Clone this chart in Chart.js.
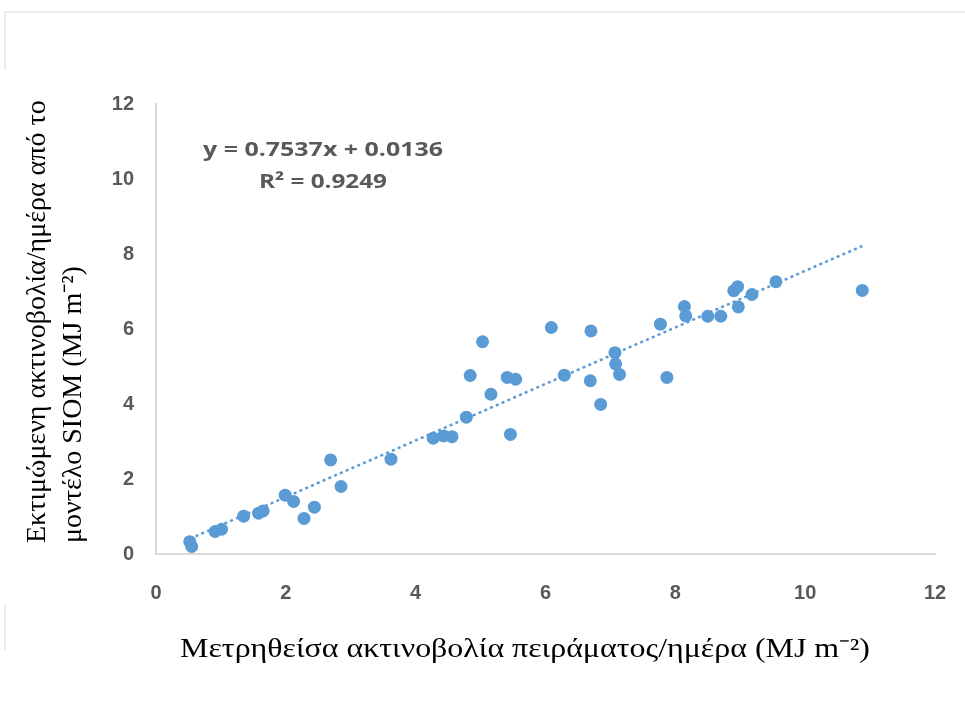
<!DOCTYPE html>
<html lang="el">
<head>
<meta charset="utf-8">
<title>Εκτιμώμενη και μετρηθείσα ακτινοβολία</title>
<script src="https://cdn.jsdelivr.net/npm/chart.js@4/dist/chart.umd.min.js"></script>
<style>
  html, body { margin: 0; padding: 0; background: #ffffff; }
  #wrap { width: 965px; height: 702px; position: relative; }
</style>
</head>
<body>
<div id="wrap"><canvas id="chart" width="965" height="702"></canvas></div>
<script>
// Measured daily radiation (MJ m-2) against the SIOM model estimate
const measured = [0.52, 0.55, 0.91, 1.01, 1.35, 1.58, 1.65, 1.99, 2.12, 2.28, 2.44, 2.69, 2.85, 3.62,
  4.27, 4.43, 4.56, 4.78, 4.84, 5.03, 5.16, 5.41, 5.54, 5.46, 6.09, 6.29, 6.70, 6.69, 6.85,
  7.07, 7.08, 7.14, 7.77, 7.87, 8.14, 8.16, 8.50, 8.70, 8.90, 8.96, 8.97, 9.18, 9.55, 10.88];
const estimated = [0.33, 0.20, 0.60, 0.66, 1.01, 1.09, 1.15, 1.57, 1.40, 0.95, 1.25, 2.51, 1.80, 2.53,
  3.09, 3.15, 3.13, 3.65, 4.76, 5.66, 4.26, 4.71, 4.66, 3.19, 6.04, 4.77, 5.95, 4.62, 3.99,
  5.37, 5.07, 4.79, 6.13, 4.71, 6.60, 6.35, 6.34, 6.34, 7.02, 7.13, 6.59, 6.92, 7.26, 7.03];

// Linear fit reported on the chart
const slope = 0.7537;
const intercept = 0.0136;
const rSquared = 0.9249;

const axisTicks = [0, 2, 4, 6, 8, 10, 12];

const xTitle = 'Μετρηθείσα ακτινοβολία πειράματος/ημέρα (MJ m⁻²)';
const yTitleLines = ['Εκτιμώμενη ακτινοβολία/ημέρα από το', 'μοντέλο SIOM (MJ m⁻²)'];

const points = measured.map((x, i) => ({ x: x, y: estimated[i] }));
const xMin = Math.min(...measured);
const xMax = Math.max(...measured);
const trend = [xMin, xMax].map(x => ({ x: x, y: slope * x + intercept }));

const fmt = (v) => v.toFixed(4);
const eqText = 'y = ' + fmt(slope) + 'x + ' + fmt(intercept);
const r2Text = 'R² = ' + fmt(rSquared);

const BLUE = '#5b9bd5';
const TICK_GREY = '#595959';
const AXIS_GREY = '#d9d9d9';

// Draws text squeezed or widened horizontally to a given width
function fillWide(ctx, text, x, y, width, align) {
  const natural = ctx.measureText(text).width;
  const k = width / natural;
  ctx.save();
  ctx.translate(x, y);
  ctx.scale(k, 1);
  ctx.textAlign = align;
  ctx.fillText(text, 0, 0);
  ctx.restore();
}

// Outer frame fragments, axis titles and the fit equation
const decorations = {
  id: 'decorations',
  beforeDraw(chart) {
    const ctx = chart.ctx;
    ctx.save();
    ctx.strokeStyle = '#e6e6e6';
    ctx.lineWidth = 1.5;
    ctx.beginPath();
    ctx.moveTo(5, 12); ctx.lineTo(965, 12);
    ctx.moveTo(5, 12); ctx.lineTo(5, 70);
    ctx.moveTo(5, 605); ctx.lineTo(5, 650);
    ctx.stroke();
    ctx.restore();
  },
  afterDraw(chart) {
    const ctx = chart.ctx;
    const area = chart.chartArea;
    ctx.save();
    // x-axis title
    ctx.fillStyle = '#000000';
    ctx.textBaseline = 'middle';
    ctx.font = '27px "Liberation Serif", "Times New Roman", serif';
    fillWide(ctx, xTitle, 180, 650, 690, 'left');

    // y-axis title, two lines rotated
    ctx.save();
    ctx.font = '28px "Liberation Serif", "Times New Roman", serif';
    ctx.translate(0, 543);
    ctx.rotate(-Math.PI / 2);
    ctx.textAlign = 'left';
    ctx.textBaseline = 'middle';
    ctx.fillText(yTitleLines[0], 0, 38);
    ctx.fillText(yTitleLines[1], 0, 74);
    ctx.restore();

    // fit equation
    ctx.fillStyle = TICK_GREY;
    ctx.font = 'bold 20px "Open Sans", "Liberation Sans", sans-serif';
    ctx.textBaseline = 'middle';
    const cx = area.left + 167;
    fillWide(ctx, eqText, cx, area.top + 46, 240, 'center');
    fillWide(ctx, r2Text, cx, area.top + 78, 128, 'center');
    ctx.restore();
  }
};

const tickFont = { family: '"Liberation Sans", Arial, sans-serif', size: 20, weight: 'bold' };

new Chart(document.getElementById('chart'), {
  type: 'scatter',
  data: {
    datasets: [
      {
        label: 'SIOM',
        data: points,
        backgroundColor: BLUE,
        borderColor: BLUE,
        borderWidth: 0,
        pointRadius: 6.5,
        pointHoverRadius: 6.5,
        order: 1
      },
      {
        label: 'Γραμμική',
        type: 'line',
        data: trend,
        borderColor: BLUE,
        borderWidth: 2.5,
        borderDash: [3, 3.3],
        borderCapStyle: 'butt',
        pointRadius: 0,
        fill: false,
        order: 2
      }
    ]
  },
  plugins: [decorations],
  options: {
    responsive: false,
    animation: false,
    devicePixelRatio: 1,
    layout: { padding: { top: 104, right: 30, left: 0, bottom: 0 } },
    plugins: {
      legend: { display: false },
      tooltip: { enabled: false },
      title: { display: false }
    },
    scales: {
      x: {
        type: 'linear',
        min: axisTicks[0],
        max: axisTicks[axisTicks.length - 1],
        afterBuildTicks(scale) { scale.ticks = axisTicks.map(v => ({ value: v })); },
        afterFit(scale) {
          scale.height = 148;
          scale.paddingLeft = 0;
          scale.paddingRight = 0;
        },
        grid: { display: false, drawTicks: false },
        border: { display: true, color: AXIS_GREY, width: 2 },
        ticks: { color: TICK_GREY, font: tickFont, padding: 27, maxRotation: 0 }
      },
      y: {
        type: 'linear',
        min: axisTicks[0],
        max: axisTicks[axisTicks.length - 1],
        afterBuildTicks(scale) { scale.ticks = axisTicks.map(v => ({ value: v })); },
        afterFit(scale) {
          scale.width = 156;
          scale.paddingTop = 0;
          scale.paddingBottom = 0;
        },
        grid: { display: false, drawTicks: false },
        border: { display: true, color: AXIS_GREY, width: 2 },
        ticks: { color: TICK_GREY, font: tickFont, padding: 22 }
      }
    }
  }
});
</script>
</body>
</html>
